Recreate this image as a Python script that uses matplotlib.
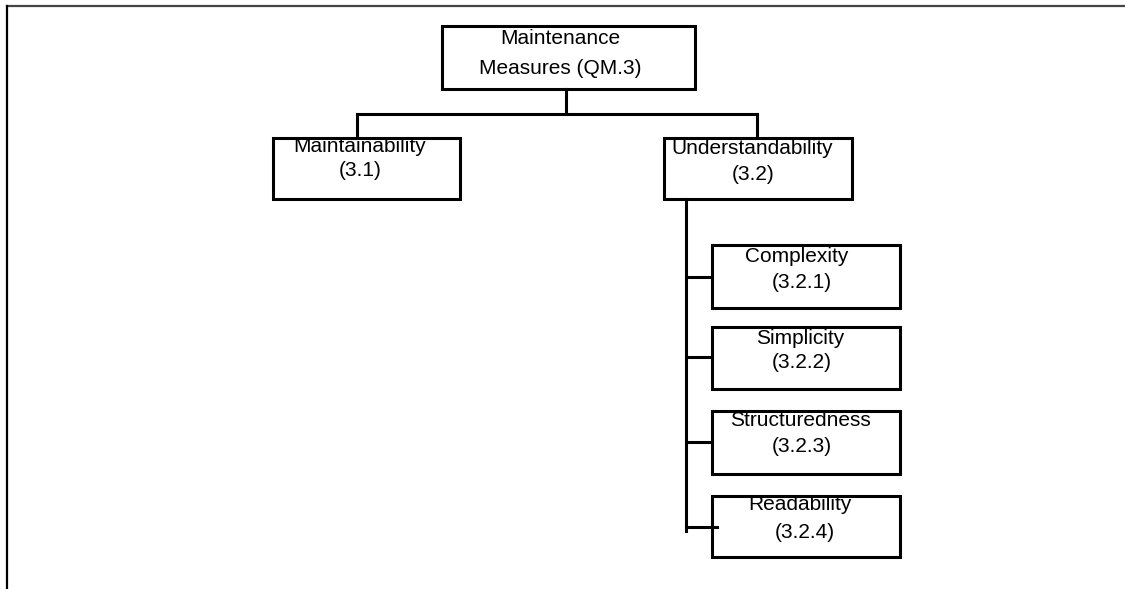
from matplotlib import pyplot as plt
from matplotlib.patches import Rectangle

# node labels (name, code)
root_name = ["Maintenance", "Measures (QM.3)"]
level1_names = ["Maintainability", "Understandability"]
level1_codes = ["(3.1)", "(3.2)"]
sub_names = ["Complexity", "Simplicity", "Structuredness", "Readability"]
sub_codes = ["(3.2.1)", "(3.2.2)", "(3.2.3)", "(3.2.4)"]

# layout in pixels (x0, x1, y0, y1), y going down
root_box = (442, 695, 26, 89)
level1_boxes = [(273, 460, 138, 199), (664, 852, 138, 199)]
sub_boxes = [(712, 900, 245, 308), (712, 900, 327, 389),
             (712, 900, 411, 474), (712, 900, 496, 557)]
# text centres: (x1, y1, x2, y2)
root_text = (560, 39, 560, 68)
level1_text = [(360, 147, 360, 171), (752, 148, 753, 175)]
sub_text = [(797, 257, 802, 283), (800, 338, 802, 362),
            (800, 420, 802, 447), (800, 505, 805, 532)]
branch_y = [277, 357, 442, 527]

lw = 2.2
fs = 15
font = "Liberation Sans"

fig = plt.figure(figsize=(11.25, 5.89), dpi=100)
ax = fig.add_axes([0, 0, 1, 1])
ax.set_xlim(0, 1125)
ax.set_ylim(589, 0)
ax.axis("off")


def box(b):
	x0, x1, y0, y1 = b
	ax.add_patch(Rectangle((x0, y0), x1 - x0, y1 - y0, fill=False,
		edgecolor="black", linewidth=lw))


def label(t, a, b):
	ax.text(t[0], t[1], a, ha="center", va="center", fontsize=fs, family=font)
	ax.text(t[2], t[3], b, ha="center", va="center", fontsize=fs, family=font)


# page frame (top and left only)
ax.plot([7, 1125], [6, 6], color="#444444", linewidth=1.6)
ax.plot([7, 7], [6, 589], color="black", linewidth=1.6)

# root
box(root_box)
label(root_text, root_name[0], root_name[1])

# connector root -> level 1
cx = (root_box[0] + root_box[1]) / 2 - 3
hy = 114
ax.plot([cx, cx], [root_box[3], hy], color="black", linewidth=lw)
ax.plot([357, 757], [hy, hy], color="black", linewidth=lw)
ax.plot([357, 357], [hy, 138], color="black", linewidth=lw)
ax.plot([757, 757], [hy, 138], color="black", linewidth=lw)

for i in range(len(level1_names)):
	box(level1_boxes[i])
	label(level1_text[i], level1_names[i], level1_codes[i])

# trunk under Understandability
tx = 686
ax.plot([tx, tx], [199, 531], color="black", linewidth=lw)

for i in range(len(sub_names)):
	box(sub_boxes[i])
	label(sub_text[i], sub_names[i], sub_codes[i])
	end = 712 if i < len(sub_names) - 1 else 717
	ax.plot([tx, end], [branch_y[i], branch_y[i]], color="black", linewidth=lw)

plt.savefig("out.png", dpi=100)
